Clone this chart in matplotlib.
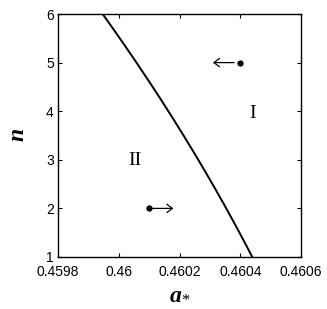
import matplotlib.pyplot as plt
import numpy as np

plt.rcParams['mathtext.fontset'] = 'custom'
plt.rcParams['mathtext.bf'] = 'Liberation Serif:bold:italic'
plt.rcParams['mathtext.it'] = 'Liberation Serif:italic'
plt.rcParams['mathtext.rm'] = 'Liberation Serif'

# boundary curve between regions I and II
curve_n = [1, 2, 3, 4, 5, 6]
curve_a = [0.460438, 0.460355, 0.460265, 0.460163, 0.460053, 0.459950]

# sample points and where their arrows go
dot_a = [0.4604, 0.4601]
dot_n = [5, 2]
arrow_tail = [0.46038, 0.460108]
arrow_tip = [0.46031, 0.460180]

region_labels = ['I', 'II']
region_a = [0.460439, 0.460053]
region_n = [3.96, 2.98]

xticks = [0.4598, 0.46, 0.4602, 0.4604, 0.4606]
xticklabels = ['0.4598', '0.46', '0.4602', '0.4604', '0.4606']
yticks = [1, 2, 3, 4, 5, 6]

fig = plt.figure(figsize=(3.27, 3.09), dpi=100)
ax = fig.add_axes([58/327, 1 - 257/309, 243/327, 243/309])

# smooth the curve through the read points
nn = np.linspace(1, 6, 200)
coef = np.polyfit(curve_n, curve_a, 2)
ax.plot(np.polyval(coef, nn), nn, color='black', lw=1.4)

ax.plot(dot_a, dot_n, 'o', color='black', ms=3.5)
for t, h, n in zip(arrow_tail, arrow_tip, dot_n):
    ax.annotate('', xy=(h, n), xytext=(t, n),
                arrowprops=dict(arrowstyle='->,head_length=0.4,head_width=0.3',
                                color='black', lw=0.9,
                                shrinkA=0, shrinkB=0, mutation_scale=10))

for lab, a, n in zip(region_labels, region_a, region_n):
    ax.text(a, n, lab, family='Liberation Serif', fontsize=14,
            ha='center', va='center')

ax.set_xlim(0.4598, 0.4606)
ax.set_ylim(1, 6)
ax.set_xticks(xticks)
ax.set_xticklabels(xticklabels)
ax.set_yticks(yticks)
ax.tick_params(direction='in', top=True, right=True, length=3, width=0.8,
               labelsize=10)
ax.tick_params(axis='x', pad=5.5)
ax.tick_params(axis='y', pad=3)
for lab in ax.get_xticklabels() + ax.get_yticklabels():
    lab.set_family('Liberation Sans')
for s in ax.spines.values():
    s.set_linewidth(1.0)

ax.set_xlabel(r'$\mathbf{a}_{*}$', fontsize=17, labelpad=1)
ax.set_ylabel(r'$\mathbf{n}$', fontsize=17, labelpad=12)

fig.savefig('out.png', dpi=100)
